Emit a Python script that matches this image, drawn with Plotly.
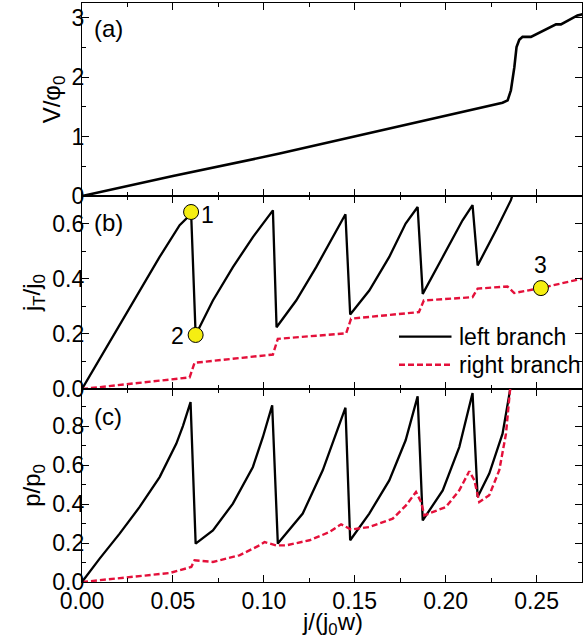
import plotly.graph_objects as go
from plotly.subplots import make_subplots

# ---------------- data ----------------
# panel (a): V/phi0 vs j/(j0 w)
j_a = [0, 0.05, 0.1087, 0.149, 0.2002, 0.2313, 0.2341, 0.2359, 0.2378, 0.239, 0.2405,
       0.2423, 0.2469, 0.2515, 0.257, 0.2607, 0.2634, 0.268, 0.2725, 0.2753]
V_a = [0, 0.337, 0.714, 0.993, 1.36, 1.57, 1.61, 1.78, 2.17, 2.51, 2.63,
       2.68, 2.68, 2.75, 2.83, 2.89, 2.89, 2.97, 3.04, 3.06]

# panel (b): jT/j0, left branch
j_b_left = [0, 0.0097, 0.0208, 0.0317, 0.0427, 0.0537, 0.0592, 0.0600,
            0.0625, 0.072, 0.083, 0.094, 0.104, 0.105,
            0.107, 0.1178, 0.1288, 0.138, 0.1449,
            0.1475, 0.158, 0.169, 0.178, 0.1846,
            0.1874, 0.1984, 0.2093, 0.2148,
            0.2176, 0.2277, 0.2359, 0.2375]
jT_left = [0, 0.108, 0.236, 0.357, 0.479, 0.594, 0.630, 0.642,
           0.196, 0.321, 0.442, 0.551, 0.640, 0.648,
           0.224, 0.321, 0.442, 0.551, 0.634,
           0.270, 0.357, 0.479, 0.600, 0.660,
           0.345, 0.479, 0.612, 0.667,
           0.448, 0.576, 0.685, 0.72]

# panel (b): jT/j0, right branch
j_b_right = [0, 0.0592, 0.0619, 0.105, 0.1077, 0.1453, 0.148, 0.1853, 0.188,
             0.2148, 0.2176, 0.234, 0.2377, 0.2442, 0.2524, 0.275]
jT_right = [0, 0.042, 0.095, 0.125, 0.182, 0.202, 0.255, 0.279, 0.321,
            0.333, 0.364, 0.372, 0.348, 0.355, 0.366, 0.400]

# marked states 1, 2, 3
mark_j = [0.0600, 0.0625, 0.2524]
mark_jT = [0.642, 0.196, 0.366]
mark_labels = ["1", "2", "3"]

# panel (c): p/p0, left branch
j_c_left = [0, 0.0097, 0.0207, 0.0317, 0.0427, 0.0519, 0.0555, 0.0597,
            0.0625, 0.072, 0.083, 0.094, 0.0995, 0.1046,
            0.1077, 0.1214, 0.1324, 0.1379, 0.1449,
            0.1475, 0.158, 0.169, 0.178, 0.1846,
            0.1874, 0.1984, 0.2075, 0.2148,
            0.2176, 0.224, 0.2313, 0.2354, 0.2362]
p_left = [0, 0.12, 0.248, 0.385, 0.538, 0.71, 0.80, 0.923,
          0.197, 0.265, 0.402, 0.59, 0.744, 0.906,
          0.197, 0.351, 0.573, 0.71, 0.894,
          0.214, 0.351, 0.521, 0.727, 0.952,
          0.316, 0.47, 0.692, 0.969,
          0.436, 0.556, 0.761, 0.983, 1.03]

# panel (c): p/p0, right branch
j_c_right = [0, 0.017, 0.0354, 0.0482, 0.0601, 0.0619, 0.072, 0.0866, 0.0976, 0.1004,
             0.1068, 0.1123, 0.1251, 0.1361, 0.1425, 0.148, 0.158, 0.1709, 0.1782,
             0.1837, 0.1865, 0.1883, 0.2002, 0.2075, 0.213, 0.2158, 0.2185, 0.224,
             0.2295, 0.2332, 0.2354, 0.2362]
p_right = [0, 0.017, 0.034, 0.046, 0.077, 0.111, 0.103, 0.137, 0.188, 0.205,
           0.188, 0.188, 0.214, 0.256, 0.296, 0.269, 0.282, 0.325, 0.393,
           0.462, 0.41, 0.342, 0.385, 0.47, 0.568, 0.522, 0.41, 0.445,
           0.573, 0.761, 0.983, 1.03]

x_ticks = [0.00, 0.05, 0.10, 0.15, 0.20, 0.25]
legend_names = ["left branch", "right branch"]

# ---------------- figure ----------------
BLACK = "#000000"
RED = "#e4103a"
FONT = "Liberation Sans, Arial, sans-serif"
FS = 23
DASH = "6px,3px"

fig = make_subplots(rows=3, cols=1, shared_xaxes=True, vertical_spacing=0)

fig.add_trace(go.Scatter(x=j_a, y=V_a, mode="lines", line=dict(color=BLACK, width=2.6),
                         showlegend=False), row=1, col=1)

fig.add_trace(go.Scatter(x=j_b_left, y=jT_left, mode="lines", name=legend_names[0],
                         showlegend=False, line=dict(color=BLACK, width=2.3)), row=2, col=1)
fig.add_trace(go.Scatter(x=j_b_right, y=jT_right, mode="lines", name=legend_names[1],
                         showlegend=False, line=dict(color=RED, width=2.4, dash=DASH)), row=2, col=1)
fig.add_trace(go.Scatter(x=mark_j, y=mark_jT, mode="markers", showlegend=False,
                         marker=dict(size=15, color="#f5ee12",
                                     line=dict(color=BLACK, width=1))), row=2, col=1)

fig.add_trace(go.Scatter(x=j_c_left, y=p_left, mode="lines", showlegend=False,
                         line=dict(color=BLACK, width=2.3)), row=3, col=1)
fig.add_trace(go.Scatter(x=j_c_right, y=p_right, mode="lines", showlegend=False,
                         line=dict(color=RED, width=2.4, dash=DASH)), row=3, col=1)

axis_common = dict(showline=True, linecolor=BLACK, linewidth=1.3, mirror="allticks",
                   ticks="inside", ticklen=7, tickwidth=1.2, tickcolor=BLACK,
                   showgrid=False, zeroline=False,
                   tickfont=dict(family=FONT, size=FS, color=BLACK))

for r in (1, 2, 3):
    fig.update_xaxes(range=[0, 0.275], tickvals=x_ticks,
                     minor=dict(ticks="inside", ticklen=4, dtick=0.025, tick0=0,
                                tickcolor=BLACK, tickwidth=1.2),
                     showticklabels=(r == 3), tickformat=".2f", ticklabelstandoff=-2,
                     row=r, col=1, **axis_common)

ytitle_font = dict(family=FONT, size=FS + 1)
fig.update_yaxes(range=[0, 3.25], dtick=1, tick0=0, ticklabelstandoff=-8,
                 minor=dict(ticks="inside", ticklen=4, dtick=0.5, tickcolor=BLACK, tickwidth=1.2),
                 title=dict(text="V/φ<sub>0</sub>", font=ytitle_font, standoff=4),
                 row=1, col=1, **axis_common)
fig.update_yaxes(range=[0, 0.70], tickvals=[0, 0.2, 0.4, 0.6], tickformat=".1f", ticklabelstandoff=-8,
                 minor=dict(ticks="inside", ticklen=4, dtick=0.1, tick0=0, tickcolor=BLACK, tickwidth=1.2),
                 title=dict(text="j<sub>T</sub>/j<sub>0</sub>", font=ytitle_font, standoff=4),
                 row=2, col=1, **axis_common)
fig.update_yaxes(range=[0, 0.99], tickvals=[0, 0.2, 0.4, 0.6, 0.8], tickformat=".1f", ticklabelstandoff=-8,
                 minor=dict(ticks="inside", ticklen=4, dtick=0.1, tick0=0, tickcolor=BLACK, tickwidth=1.2),
                 title=dict(text="p/p<sub>0</sub>", font=ytitle_font, standoff=4),
                 row=3, col=1, **axis_common)

# x-axis title
fig.add_annotation(text="j/(j<sub>0</sub>w)", xref="paper", yref="paper", x=0.5, y=-0.071,
                   xanchor="center", yanchor="middle", showarrow=False,
                   font=dict(family=FONT, size=FS + 1, color=BLACK))

# panel letters
for r, lab, yy in ((1, "(a)", 0.869), (2, "(b)", 0.862), (3, "(c)", 0.859)):
    xref = "x domain" if r == 1 else f"x{r} domain"
    yref = "y domain" if r == 1 else f"y{r} domain"
    fig.add_annotation(text=lab, xref=xref, yref=yref, x=0.02, y=yy, xanchor="left",
                       yanchor="middle", showarrow=False,
                       font=dict(family=FONT, size=FS + 1, color=BLACK))

# marker labels
shifts = [(16, -3), (-18, -1), (0, 23)]
for jx, jy, lab, (dx, dy) in zip(mark_j, mark_jT, mark_labels, shifts):
    fig.add_annotation(text=lab, x=jx, y=jy, xref="x2", yref="y2", showarrow=False,
                       xshift=dx, yshift=dy, font=dict(family=FONT, size=FS, color=BLACK))

# legend (panel b), drawn as line samples + labels
legend_rows = [(0.271, dict(color=BLACK, width=2.3)),
               (0.126, dict(color=RED, width=2.4, dash=DASH))]
for name, (yy, ln) in zip(legend_names, legend_rows):
    fig.add_shape(type="line", xref="x2 domain", yref="y2 domain",
                  x0=0.634, x1=0.739, y0=yy, y1=yy, line=ln)
    fig.add_annotation(text=name, xref="x2 domain", yref="y2 domain", x=0.749, y=yy,
                       xanchor="left", yanchor="middle", showarrow=False,
                       font=dict(family=FONT, size=FS, color=BLACK))

fig.update_layout(
    width=583, height=642,
    margin=dict(l=82, r=1, t=3, b=60),
    paper_bgcolor="white", plot_bgcolor="white",
    font=dict(family=FONT, size=FS, color=BLACK),
    showlegend=False,
)

fig.write_html("out.html", config={"displayModeBar": False},
               post_script="document.body.style.margin='0';")
